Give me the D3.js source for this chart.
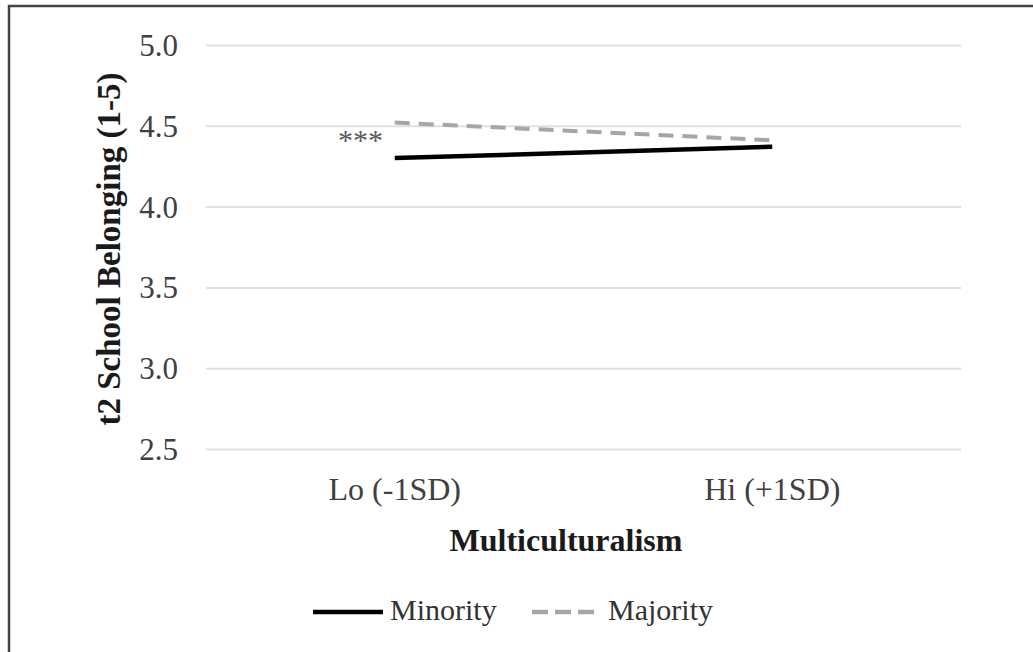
<!DOCTYPE html>
<html>
<head>
<meta charset="utf-8">
<script src="https://cdn.jsdelivr.net/npm/d3@7"></script>
<style>
  body { margin: 0; background: #fff; }
  svg { display: block; }
  text { font-family: "Liberation Serif", "Times New Roman", serif; }
</style>
</head>
<body>
<svg id="chart"></svg>
<script>
const width = 1033;
const height = 652;

const categories = ["Lo (-1SD)", "Hi (+1SD)"];
const minority = [4.30, 4.37];
const majority = [4.52, 4.41];
const yTicks = [2.5, 3.0, 3.5, 4.0, 4.5, 5.0];

const series = [
  { name: "Minority", values: minority, color: "#000000", dash: null },
  { name: "Majority", values: majority, color: "#a6a6a6", dash: "15,9" }
];

const svg = d3.select("#chart").attr("width", width).attr("height", height);

// outer frame (only the top and left edges are in view)
svg.append("rect")
  .attr("x", 9)
  .attr("y", 6)
  .attr("width", width + 20)
  .attr("height", height + 20)
  .attr("fill", "none")
  .attr("stroke", "#444")
  .attr("stroke-width", 2.5);

const plotLeft = 206, plotRight = 961, plotTop = 45, plotBottom = 449;

const xScale = d3.scaleBand().domain(categories).range([plotLeft, plotRight]);
const yScale = d3.scaleLinear().domain([2.5, 5]).range([plotBottom, plotTop]);

const yAxis = d3.axisLeft(yScale)
  .tickValues(yTicks)
  .tickFormat(d3.format(".1f"))
  .tickSizeInner(-(plotRight - plotLeft))
  .tickSizeOuter(0)
  .tickPadding(28);

const gy = svg.append("g")
  .attr("transform", `translate(${plotLeft}, 0)`)
  .call(yAxis);
gy.select(".domain").remove();
gy.selectAll("line").attr("stroke", "#e0e0e0").attr("stroke-width", 2);
gy.selectAll("text")
  .attr("font-size", 31)
  .attr("fill", "#404040")
  .attr("dy", "0.34em");

const xAxis = d3.axisBottom(xScale).tickSize(0).tickPadding(28);
const gx = svg.append("g")
  .attr("transform", `translate(0, ${plotBottom})`)
  .call(xAxis);
gx.select(".domain").remove();
gx.selectAll("text")
  .attr("font-size", 32)
  .attr("fill", "#404040");

const line = d3.line()
  .x((d, i) => xScale(categories[i]) + xScale.bandwidth() / 2)
  .y(d => yScale(d));

// draw majority first so minority sits on top
[series[1], series[0]].forEach(s => {
  svg.append("path")
    .datum(s.values)
    .attr("d", line)
    .attr("fill", "none")
    .attr("stroke", s.color)
    .attr("stroke-width", s.dash ? 4 : 4.5)
    .attr("stroke-dasharray", s.dash);
});

svg.append("text")
  .attr("x", 383)
  .attr("y", 150)
  .attr("text-anchor", "end")
  .attr("font-size", 30)
  .attr("fill", "#595959")
  .text("***");

svg.append("text")
  .attr("transform", `translate(120, ${(plotTop + plotBottom) / 2 + 2}) rotate(-90)`)
  .attr("text-anchor", "middle")
  .attr("font-size", 33)
  .attr("font-weight", "bold")
  .attr("fill", "#1a1a1a")
  .text("t2 School Belonging (1-5)");

svg.append("text")
  .attr("x", 566)
  .attr("y", 551)
  .attr("text-anchor", "middle")
  .attr("font-size", 32)
  .attr("font-weight", "bold")
  .attr("fill", "#1a1a1a")
  .text("Multiculturalism");

const legend = svg.append("g").attr("transform", "translate(0, 612)");
const legendX = [313, 532];
series.forEach((s, i) => {
  legend.append("line")
    .attr("x1", legendX[i])
    .attr("x2", legendX[i] + (s.dash ? 62 : 70))
    .attr("stroke", s.color)
    .attr("stroke-width", 4.5)
    .attr("stroke-dasharray", s.dash ? "16,7" : null);
  legend.append("text")
    .attr("x", legendX[i] + (s.dash ? 76 : 77))
    .attr("y", 8)
    .attr("font-size", 30)
    .attr("fill", "#333")
    .text(s.name);
});
</script>
</body>
</html>
